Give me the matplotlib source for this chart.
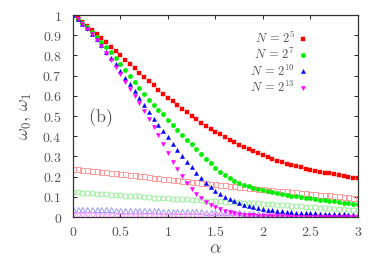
import matplotlib
matplotlib.use("Agg")
import matplotlib.pyplot as plt
import numpy as np

plt.rcParams['mathtext.fontset'] = 'cm'
plt.rcParams['font.family'] = 'serif'

# alpha grid, step 0.05
alpha = np.round(np.arange(61) * 0.05, 2)

# omega_0 (filled markers)
w0_n5 = [1.000, 0.985, 0.968, 0.948, 0.928, 0.907, 0.886, 0.865, 0.843, 0.822,
         0.800, 0.779, 0.757, 0.736, 0.714, 0.693, 0.672, 0.652, 0.631, 0.611,
         0.592, 0.573, 0.554, 0.536, 0.518, 0.501, 0.484, 0.468, 0.452, 0.437,
         0.423, 0.409, 0.395, 0.382, 0.370, 0.358, 0.346, 0.335, 0.325, 0.315,
         0.305, 0.296, 0.288, 0.280, 0.272, 0.265, 0.258, 0.252, 0.246, 0.240,
         0.235, 0.230, 0.225, 0.220, 0.216, 0.212, 0.208, 0.204, 0.200, 0.196,
         0.192]
w0_n7 = [1.000, 0.982, 0.962, 0.940, 0.917, 0.893, 0.868, 0.842, 0.815, 0.787,
         0.758, 0.729, 0.699, 0.669, 0.639, 0.609, 0.580, 0.556, 0.532, 0.508,
         0.483, 0.457, 0.432, 0.407, 0.383, 0.360, 0.336, 0.312, 0.289, 0.266,
         0.245, 0.225, 0.208, 0.193, 0.180, 0.169, 0.160, 0.152, 0.145, 0.139,
         0.133, 0.128, 0.123, 0.118, 0.114, 0.110, 0.106, 0.102, 0.099, 0.096,
         0.093, 0.090, 0.087, 0.084, 0.081, 0.078, 0.075, 0.072, 0.069, 0.066,
         0.063]
w0_n10 = [1.000, 0.980, 0.958, 0.934, 0.908, 0.880, 0.850, 0.819, 0.789, 0.758,
          0.725, 0.691, 0.657, 0.623, 0.589, 0.555, 0.521, 0.488, 0.456, 0.425,
          0.395, 0.364, 0.334, 0.304, 0.275, 0.247, 0.220, 0.194, 0.170, 0.149,
          0.130, 0.114, 0.100, 0.089, 0.079, 0.070, 0.062, 0.055, 0.049, 0.044,
          0.040, 0.036, 0.033, 0.030, 0.028, 0.026, 0.024, 0.022, 0.021, 0.020,
          0.019, 0.018, 0.017, 0.016, 0.015, 0.014, 0.013, 0.013, 0.012, 0.012,
          0.011]
w0_n13 = [1.000, 0.980, 0.957, 0.932, 0.905, 0.876, 0.845, 0.812, 0.778, 0.743,
          0.706, 0.670, 0.634, 0.599, 0.565, 0.527, 0.488, 0.447, 0.404, 0.360,
          0.316, 0.274, 0.236, 0.201, 0.169, 0.140, 0.115, 0.094, 0.076, 0.062,
          0.050, 0.040, 0.032, 0.025, 0.020, 0.016, 0.012, 0.010, 0.008, 0.006,
          0.005, 0.004, 0.004, 0.003, 0.003, 0.003, 0.002, 0.002, 0.002, 0.002,
          0.002, 0.002, 0.001, 0.001, 0.001, 0.001, 0.001, 0.001, 0.001, 0.001,
          0.001]

# omega_1 (open markers)
w1_n5 = [0.238, 0.236, 0.233, 0.231, 0.228, 0.226, 0.223, 0.221, 0.218, 0.216,
         0.213, 0.211, 0.208, 0.206, 0.203, 0.201, 0.198, 0.196, 0.193, 0.191,
         0.188, 0.186, 0.183, 0.181, 0.178, 0.176, 0.173, 0.171, 0.168, 0.166,
         0.163, 0.161, 0.158, 0.156, 0.153, 0.151, 0.148, 0.146, 0.143, 0.141,
         0.138, 0.136, 0.134, 0.131, 0.129, 0.127, 0.124, 0.122, 0.120, 0.117,
         0.115, 0.113, 0.111, 0.109, 0.107, 0.105, 0.103, 0.101, 0.099, 0.096,
         0.094]
w1_n7 = [0.124, 0.122, 0.121, 0.119, 0.118, 0.116, 0.114, 0.113, 0.111, 0.110,
         0.108, 0.106, 0.105, 0.103, 0.102, 0.100, 0.099, 0.097, 0.096, 0.094,
         0.093, 0.092, 0.090, 0.089, 0.088, 0.086, 0.085, 0.084, 0.082, 0.081,
         0.080, 0.079, 0.077, 0.076, 0.075, 0.073, 0.072, 0.071, 0.069, 0.068,
         0.066, 0.064, 0.063, 0.061, 0.059, 0.058, 0.056, 0.055, 0.053, 0.051,
         0.050, 0.048, 0.047, 0.045, 0.043, 0.042, 0.040, 0.038, 0.037, 0.035,
         0.033]
w1_n10 = [0.042, 0.041, 0.041, 0.040, 0.040, 0.039, 0.039, 0.038, 0.038, 0.037,
          0.037, 0.036, 0.036, 0.035, 0.035, 0.034, 0.034, 0.033, 0.033, 0.032,
          0.032, 0.031, 0.031, 0.030, 0.030, 0.029, 0.028, 0.028, 0.027, 0.027,
          0.026, 0.025, 0.025, 0.024, 0.023, 0.023, 0.022, 0.022, 0.021, 0.021,
          0.020, 0.019, 0.019, 0.018, 0.018, 0.017, 0.016, 0.016, 0.015, 0.015,
          0.014, 0.013, 0.013, 0.012, 0.012, 0.011, 0.010, 0.010, 0.009, 0.009,
          0.008]
w1_n13 = [0.008, 0.008, 0.008, 0.008, 0.008, 0.007, 0.007, 0.007, 0.007, 0.007,
          0.007, 0.007, 0.006, 0.006, 0.006, 0.006, 0.006, 0.006, 0.006, 0.005,
          0.005, 0.005, 0.005, 0.005, 0.005, 0.005, 0.005, 0.004, 0.004, 0.004,
          0.004, 0.004, 0.004, 0.004, 0.004, 0.003, 0.003, 0.003, 0.003, 0.003,
          0.003, 0.003, 0.003, 0.003, 0.003, 0.002, 0.002, 0.002, 0.002, 0.002,
          0.002, 0.002, 0.002, 0.002, 0.002, 0.002, 0.002, 0.002, 0.002, 0.002,
          0.002]

labels = [r'$N\,=\,2^5$', r'$N\,=\,2^7$', r'$N\,=\,2^{10}$', r'$N\,=\,2^{13}$']
xticks = [0, 0.5, 1, 1.5, 2, 2.5, 3]
xticklabels = ['0', '0.5', '1', '1.5', '2', '2.5', '3']
yticks = [0, 0.1, 0.2, 0.3, 0.4, 0.5, 0.6, 0.7, 0.8, 0.9, 1]
yticklabels = ['0', '0.1', '0.2', '0.3', '0.4', '0.5', '0.6', '0.7', '0.8', '0.9', '1']

fig = plt.figure(figsize=(3.82, 2.60), dpi=100)
ax = fig.add_axes([0.191, 0.165, 0.746, 0.777])

colors = ['#ff0000', '#00ee00', '#0000ff', '#ff00ff']
pale = ['#ff9a9a', '#99ee99', '#9a9aff', '#ff9aff']
markers = ['s', 'o', '^', 'v']
msize = [3.0, 3.2, 3.0, 3.0]

for y, c, m in zip([w1_n5, w1_n7, w1_n10, w1_n13], pale, markers):
    ax.plot(alpha, y, ls='none', marker=m, ms=3.6, mfc='none', mec=c, mew=0.7)

for y, c, m, s, lab in zip([w0_n5, w0_n7, w0_n10, w0_n13], colors, markers, msize, labels):
    ax.plot(alpha, y, ls='none', marker=m, ms=s, mfc=c, mec=c, mew=0.3, label=lab)

ax.set_xlim(0, 3)
ax.set_ylim(0, 1)
ax.set_xticks(xticks)
ax.set_xticklabels(['$' + t + '$' for t in xticklabels], fontsize=10, color='#555555')
ax.set_yticks(yticks)
ax.set_yticklabels(['$' + t + '$' for t in yticklabels], fontsize=10, color='#555555')
ax.tick_params(axis='y', direction='in', length=3, width=0.6, right=True, pad=8)
ax.tick_params(axis='x', direction='in', length=3, width=0.6, top=True, pad=6)
for s in ax.spines.values():
    s.set_linewidth(0.9)
    s.set_color('#333333')

ax.set_xlabel(r'$\alpha$', fontsize=13, color='#555555', labelpad=0)
ax.set_ylabel(r'$\omega_0,\,\omega_1$', fontsize=13, color='#555555', labelpad=6)
ax.text(0.29, 0.49, r'$\mathrm{(b)}$', fontsize=13, color='#555555',
        ha='center', va='center')

leg = ax.legend(loc='upper right', bbox_to_anchor=(0.835, 0.95), frameon=False,
                markerfirst=False, handlelength=0.5, handletextpad=0.35,
                labelspacing=0.1, fontsize=9, borderaxespad=0)
for t in leg.get_texts():
    t.set_color('#555555')

fig.savefig('out.png', dpi=100)
